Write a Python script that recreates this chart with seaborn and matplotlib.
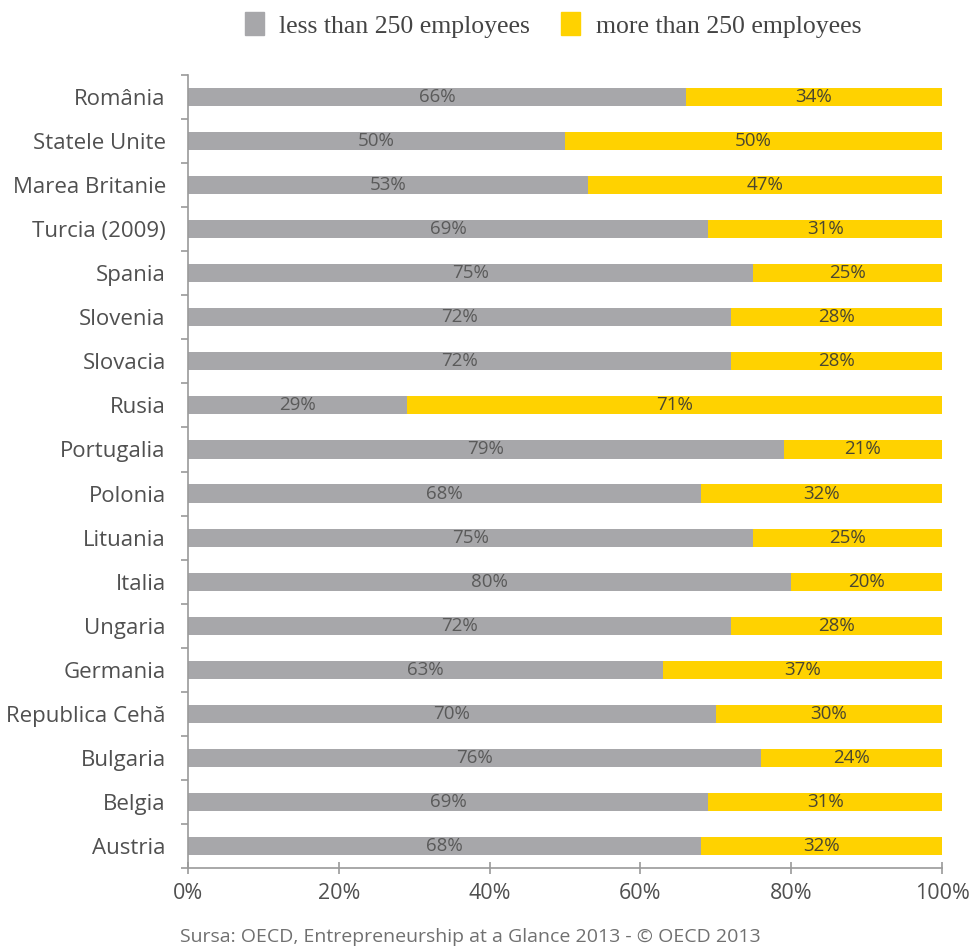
import matplotlib
matplotlib.use("Agg")
import matplotlib.pyplot as plt
import matplotlib.patches as mpatches
from matplotlib.ticker import FixedLocator, PercentFormatter
import seaborn as sns
import pandas as pd

countries = ["România", "Statele Unite", "Marea Britanie", "Turcia (2009)", "Spania",
             "Slovenia", "Slovacia", "Rusia", "Portugalia", "Polonia", "Lituania",
             "Italia", "Ungaria", "Germania", "Republica Cehă", "Bulgaria", "Belgia", "Austria"]
less_250 = [66, 50, 53, 69, 75, 72, 72, 29, 79, 68, 75, 80, 72, 63, 70, 76, 69, 68]
more_250 = [34, 50, 47, 31, 25, 28, 28, 71, 21, 32, 25, 20, 28, 37, 30, 24, 31, 32]
x_ticks = [0, 20, 40, 60, 80, 100]
legend_labels = ["less than 250 employees", "more than 250 employees"]
source_text = "Sursa: OECD, Entrepreneurship at a Glance 2013 - © OECD 2013"

GREY = "#A7A7AA"
YELLOW = "#FFD200"
TEXT = "#505050"

sns.set_theme(style="white")
plt.rcParams["font.family"] = ["Open Sans", "DejaVu Sans"]

df = pd.DataFrame({"country": countries, "less": less_250, "more": more_250})
df["total"] = df["less"] + df["more"]

fig = plt.figure(figsize=(9.70, 9.49), dpi=100)
W, H = 970, 949
ax = fig.add_axes([188 / W, 1 - 868 / H, (942 - 188) / W, (868 - 75) / H])

sns.barplot(data=df, y="country", x="total", color=YELLOW, orient="h",
            width=0.41, ax=ax, saturation=1, linewidth=0)
sns.barplot(data=df, y="country", x="less", color=GREY, orient="h",
            width=0.41, ax=ax, saturation=1, linewidth=0)

for i, (l, m) in enumerate(zip(less_250, more_250)):
    ax.text(l / 2, i, f"{l}%", ha="center", va="center", fontsize=13.5, color="#5a5a5a")
    ax.text(l + m / 2, i, f"{m}%", ha="center", va="center", fontsize=13.5, color="#4a4630")

ax.set_xlim(0, 100)
ax.set_ylim(len(countries) - 0.5, -0.5)
ax.set_xlabel("")
ax.set_ylabel("")
ax.xaxis.set_major_locator(FixedLocator(x_ticks))
ax.xaxis.set_major_formatter(PercentFormatter(decimals=0))
ax.set_yticks(range(len(countries)))
ax.set_yticklabels(countries)
ax.set_yticks([i + 0.5 for i in range(-1, len(countries))], minor=True)

for s in ["top", "right"]:
    ax.spines[s].set_visible(False)
for s in ["left", "bottom"]:
    ax.spines[s].set_color("#9a9a9a")
    ax.spines[s].set_linewidth(1.2)

ax.tick_params(axis="y", which="major", length=0, pad=16, labelsize=16, labelcolor=TEXT)
ax.tick_params(axis="y", which="minor", length=5, direction="out", color="#9a9a9a", width=1.2, left=True)
ax.tick_params(axis="x", which="major", length=8, direction="inout", color="#9a9a9a", width=1.2,
               bottom=True, labelsize=15.5, labelcolor=TEXT, pad=7)

handles = [mpatches.Patch(color=GREY), mpatches.Patch(color=YELLOW)]
fig.legend(handles, legend_labels, loc="center", bbox_to_anchor=(553 / W, 1 - 25 / H),
           ncol=2, frameon=False, prop={"family": "Liberation Serif", "size": 18.5},
           labelcolor="#444444", handlelength=0.75, handleheight=1.0, columnspacing=1.2,
           handletextpad=0.6)

fig.text(180 / W, 1 - 937 / H, source_text, ha="left", va="center", fontsize=14, color="#707070")

fig.savefig("out.png", dpi=100, facecolor="white")
